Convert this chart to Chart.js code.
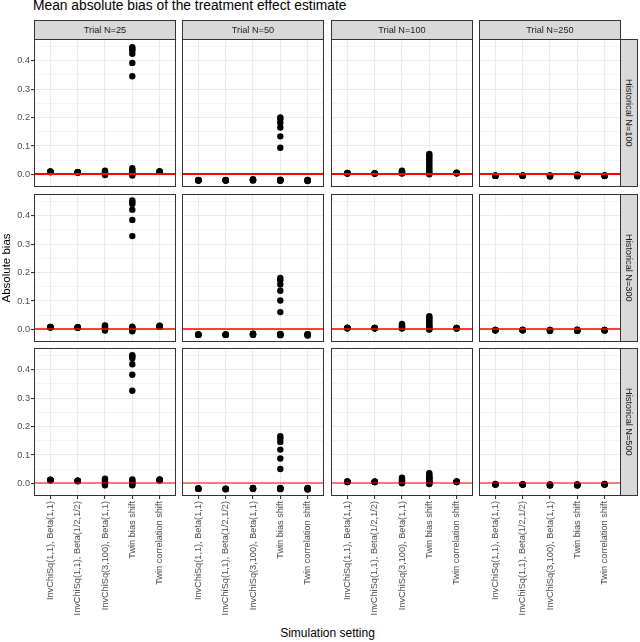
<!DOCTYPE html>
<html>
<head>
<meta charset="utf-8">
<script src="https://cdn.jsdelivr.net/npm/chart.js@4.4.1/dist/chart.umd.min.js"></script>
<style>
  body { margin: 0; background: #fff; font-family: "Liberation Sans", Arial, sans-serif; }
  #fig { position: relative; width: 640px; height: 642px; overflow: hidden; }
  .txt { position: absolute; white-space: nowrap; color: #000; }
  .strip {
    position: absolute; background: #d9d9d9; border: 1px solid #333; box-sizing: border-box;
    color: #1a1a1a; font-size: 9.2px; display: flex; align-items: center; justify-content: center;
  }
  .strip.v { writing-mode: vertical-rl; }
  canvas { position: absolute; }
</style>
</head>
<body>
<div id="fig">
  <div class="txt" style="left:33px; top:-2px; font-size:13.8px;">Mean absolute bias of the treatment effect estimate</div>
  <div class="txt" style="left:34px; width:587px; top:626px; text-align:center; font-size:12px;">Simulation setting</div>
</div>
<script>
// ---- data ----
const categories = [
    'InvChiSq(1,1), Beta(1,1)',
    'InvChiSq(1,1), Beta(1/2,1/2)',
    'InvChiSq(3,100), Beta(1,1)',
    'Twin bias shift',
    'Twin correlation shift'
];
const trialLabels = ['Trial N=25', 'Trial N=50', 'Trial N=100', 'Trial N=250'];
const historicalLabels = ['Historical N=100', 'Historical N=300', 'Historical N=500'];
const yTicks = [0, 0.05, 0.1, 0.15, 0.2, 0.25, 0.3, 0.35, 0.4, 0.45];
const refValue = 0;

// Historical N=100
const h100_t25 = [
    [0.009, 0.010, 0.011, 0.008, 0.010, 0.009],
    [0.007, 0.008, 0.008, 0.007, 0.008, 0.007],
    [-0.002, 0.001, 0.004, 0.008, 0.011, 0.013],
    [0.447, 0.441, 0.436, 0.424, 0.392, 0.345, 0.022, 0.016, 0.010, 0.005, 0.001, -0.004],
    [0.009, 0.010, 0.011, 0.009, 0.010, 0.011]
];
const h100_t50 = [
    [-0.020, -0.021, -0.019, -0.020, -0.021, -0.020],
    [-0.020, -0.021, -0.020, -0.019, -0.021, -0.020],
    [-0.018, -0.020, -0.017, -0.019, -0.021, -0.018],
    [0.200, 0.194, 0.182, 0.165, 0.134, 0.094, -0.018, -0.020, -0.021, -0.019, -0.022, -0.020],
    [-0.019, -0.021, -0.022, -0.020, -0.019, -0.023]
];
const h100_t100 = [
    [0.004, 0.005, 0.003, 0.004, 0.005, 0.004],
    [0.003, 0.004, 0.004, 0.003, 0.004, 0.003],
    [0.003, 0.006, 0.009, 0.011, 0.013, 0.005],
    [0.072, 0.066, 0.060, 0.053, 0.045, 0.037, 0.030, 0.022, 0.015, 0.008, 0.004, 0.001],
    [0.004, 0.005, 0.006, 0.004, 0.005, 0.005]
];
const h100_t250 = [
    [-0.004, -0.005, -0.003, -0.004, -0.005, -0.004],
    [-0.004, -0.004, -0.003, -0.005, -0.004, -0.004],
    [-0.006, -0.004, -0.003, -0.005, -0.007, -0.004],
    [-0.006, -0.004, -0.002, -0.005, -0.003, -0.001],
    [-0.004, -0.003, -0.005, -0.004, -0.003, -0.005]
];

// Historical N=300
const h300_t25 = [
    [0.008, 0.009, 0.008, 0.007, 0.009, 0.008],
    [0.007, 0.007, 0.006, 0.007, 0.008, 0.007],
    [-0.004, 0.000, 0.004, 0.008, 0.012, 0.014],
    [0.453, 0.447, 0.441, 0.421, 0.385, 0.328, 0.010, 0.007, 0.004, 0.001, -0.003, -0.006],
    [0.009, 0.011, 0.012, 0.010, 0.013, 0.011]
];
const h300_t50 = [
    [-0.018, -0.019, -0.017, -0.018, -0.019, -0.018],
    [-0.018, -0.019, -0.018, -0.017, -0.019, -0.018],
    [-0.016, -0.018, -0.015, -0.017, -0.019, -0.016],
    [0.181, 0.173, 0.158, 0.136, 0.102, 0.061, -0.016, -0.018, -0.019, -0.020, -0.017, -0.018],
    [-0.017, -0.019, -0.020, -0.018, -0.017, -0.021]
];
const h300_t100 = [
    [0.005, 0.004, 0.005, 0.006, 0.004, 0.005],
    [0.005, 0.004, 0.005, 0.004, 0.005, 0.004],
    [0.003, 0.007, 0.011, 0.015, 0.019, 0.005],
    [0.047, 0.042, 0.037, 0.032, 0.026, 0.021, 0.016, 0.011, 0.007, 0.003, 0.001, 0.000],
    [0.004, 0.005, 0.004, 0.003, 0.005, 0.004]
];
const h300_t250 = [
    [-0.002, -0.003, -0.002, -0.003, -0.002, -0.003],
    [-0.002, -0.003, -0.002, -0.002, -0.003, -0.002],
    [-0.004, -0.002, -0.003, -0.005, -0.002, -0.004],
    [-0.004, -0.002, -0.001, -0.005, -0.003, -0.002],
    [-0.002, -0.003, -0.003, -0.002, -0.004, -0.003]
];

// Historical N=500
const h500_t25 = [
    [0.012, 0.011, 0.013, 0.012, 0.011, 0.012],
    [0.009, 0.010, 0.009, 0.008, 0.010, 0.009],
    [-0.006, -0.002, 0.003, 0.008, 0.013, 0.017],
    [0.451, 0.446, 0.440, 0.419, 0.382, 0.326, 0.014, 0.010, 0.006, 0.002, -0.003, -0.006],
    [0.011, 0.013, 0.012, 0.014, 0.011, 0.012]
];
const h500_t50 = [
    [-0.018, -0.019, -0.017, -0.018, -0.019, -0.018],
    [-0.019, -0.020, -0.018, -0.019, -0.020, -0.019],
    [-0.017, -0.018, -0.016, -0.019, -0.018, -0.017],
    [0.166, 0.158, 0.146, 0.119, 0.088, 0.051, -0.016, -0.018, -0.019, -0.020, -0.017, -0.018],
    [-0.016, -0.018, -0.020, -0.017, -0.019, -0.021]
];
const h500_t100 = [
    [0.006, 0.005, 0.006, 0.007, 0.005, 0.006],
    [0.006, 0.005, 0.006, 0.005, 0.006, 0.005],
    [0.001, 0.006, 0.011, 0.016, 0.020, 0.004],
    [0.036, 0.031, 0.026, 0.021, 0.016, 0.011, 0.007, 0.003, 0.000, -0.002, 0.009, 0.019],
    [0.006, 0.005, 0.006, 0.007, 0.005, 0.006]
];
const h500_t250 = [
    [-0.003, -0.004, -0.003, -0.002, -0.004, -0.003],
    [-0.003, -0.004, -0.003, -0.003, -0.004, -0.003],
    [-0.006, -0.004, -0.005, -0.007, -0.003, -0.005],
    [-0.006, -0.004, -0.003, -0.007, -0.005, -0.004],
    [-0.003, -0.004, -0.002, -0.003, -0.004, -0.003]
];

const panels = [
    [h100_t25, h100_t50, h100_t100, h100_t250],
    [h300_t25, h300_t50, h300_t100, h300_t250],
    [h500_t25, h500_t50, h500_t100, h500_t250]
];

// ---- layout ----
const colLeft = [34, 182, 331, 479];
const rowTop = [39, 194, 348];
const PW = 142, PH = 148;
const Y_AXIS_W = 34, X_AXIS_H = 125;
const FONT = '"Liberation Sans", Arial, sans-serif';
const refLineWidth = [1.8, 1.3, 1.2];

const fig = document.getElementById('fig');

const isMajor = v => Math.abs(v * 10 - Math.round(v * 10)) < 1e-6;

const panelFrame = {
    id: 'panelFrame',
    afterDatasetsDraw(chart, args, opts) {
        const { ctx, chartArea: a, scales } = chart;
        const y0 = Math.round(scales.y.getPixelForValue(refValue));
        ctx.save();
        ctx.strokeStyle = '#ff0000';
        ctx.lineWidth = opts.refWidth;
        ctx.beginPath();
        ctx.moveTo(a.left, y0);
        ctx.lineTo(a.right, y0);
        ctx.stroke();
        ctx.restore();
    },
    afterDraw(chart) {
        const { ctx, chartArea: a } = chart;
        ctx.save();
        ctx.strokeStyle = '#333333';
        ctx.lineWidth = 1;
        ctx.strokeRect(a.left + 0.5, a.top + 0.5, a.right - a.left - 1, a.bottom - a.top - 1);
        ctx.restore();
    }
};

function noPad(s) {
    s.paddingTop = 0; s.paddingBottom = 0; s.paddingLeft = 0; s.paddingRight = 0;
}

function makePanel(r, c) {
    const isLeft = c === 0, isBottom = r === panels.length - 1;
    const w = PW + (isLeft ? Y_AXIS_W : 0);
    const h = PH + (isBottom ? X_AXIS_H : 0);
    const cv = document.createElement('canvas');
    cv.width = w; cv.height = h;
    cv.style.left = (colLeft[c] - (isLeft ? Y_AXIS_W : 0)) + 'px';
    cv.style.top = rowTop[r] + 'px';
    cv.style.width = w + 'px'; cv.style.height = h + 'px';
    fig.appendChild(cv);

    const points = [];
    panels[r][c].forEach((vals, ci) => vals.forEach(v => points.push({ x: ci + 1, y: v })));

    new Chart(cv, {
        type: 'scatter',
        data: {
            datasets: [{
                data: points,
                backgroundColor: '#000000',
                borderWidth: 0,
                pointRadius: 3.2,
                pointHoverRadius: 3.2
            }]
        },
        options: {
            responsive: false,
            animation: false,
            devicePixelRatio: 1,
            events: [],
            layout: { padding: 0, autoPadding: false },
            plugins: {
                legend: { display: false },
                tooltip: { enabled: false },
                panelFrame: { refWidth: refLineWidth[r] }
            },
            scales: {
                x: {
                    type: 'linear',
                    min: 0.4,
                    max: 5.6,
                    afterBuildTicks: s => { s.ticks = categories.map((_, i) => ({ value: i + 1 })); },
                    afterFit: s => { s.height = isBottom ? X_AXIS_H : 0; noPad(s); },
                    border: { display: false },
                    grid: {
                        color: '#ebebeb',
                        lineWidth: 1.1,
                        drawTicks: isBottom,
                        tickLength: 3,
                        tickColor: '#333333'
                    },
                    ticks: {
                        display: isBottom,
                        autoSkip: false,
                        minRotation: 90,
                        maxRotation: 90,
                        padding: 2,
                        color: '#4d4d4d',
                        font: { family: FONT, size: 9.2 },
                        callback: (v, i) => categories[i]
                    }
                },
                y: {
                    type: 'linear',
                    min: -0.044,
                    max: 0.476,
                    afterBuildTicks: s => { s.ticks = yTicks.map(v => ({ value: v })); },
                    afterFit: s => { s.width = isLeft ? Y_AXIS_W : 0; noPad(s); },
                    border: { display: false },
                    grid: {
                        color: '#ebebeb',
                        lineWidth: ctx => (ctx.tick && isMajor(ctx.tick.value)) ? 1.1 : 0.55,
                        drawTicks: isLeft,
                        tickLength: 3,
                        tickColor: ctx => (ctx.tick && isMajor(ctx.tick.value)) ? '#333333' : 'rgba(0,0,0,0)'
                    },
                    title: {
                        display: isLeft && r === 1,
                        text: 'Absolute bias',
                        color: '#000000',
                        font: { family: FONT, size: 11.5 },
                        padding: 0
                    },
                    ticks: {
                        display: isLeft,
                        autoSkip: false,
                        padding: 1,
                        color: '#4d4d4d',
                        font: { family: FONT, size: 9.2 },
                        callback: v => isMajor(v) ? v.toFixed(1) : ''
                    }
                }
            }
        },
        plugins: [panelFrame]
    });
}

panels.forEach((row, r) => row.forEach((_, c) => makePanel(r, c)));

// facet strips
trialLabels.forEach((t, c) => {
    const d = document.createElement('div');
    d.className = 'strip';
    d.style.left = colLeft[c] + 'px'; d.style.top = '20px';
    d.style.width = PW + 'px'; d.style.height = '20px';
    d.textContent = t;
    fig.appendChild(d);
});
historicalLabels.forEach((t, r) => {
    const d = document.createElement('div');
    d.className = 'strip v';
    d.style.left = (colLeft[3] + PW - 1) + 'px'; d.style.top = rowTop[r] + 'px';
    d.style.width = '18px'; d.style.height = PH + 'px';
    d.textContent = t;
    fig.appendChild(d);
});
</script>
</body>
</html>
